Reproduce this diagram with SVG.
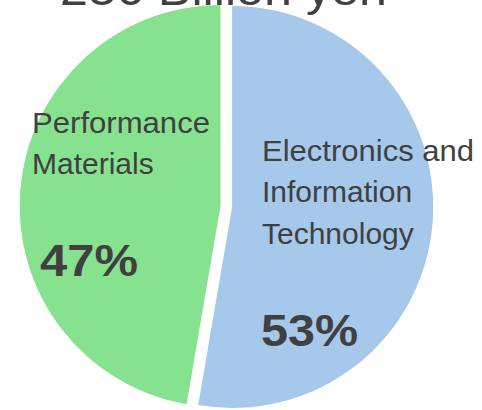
<svg xmlns="http://www.w3.org/2000/svg" width="482" height="410" viewBox="0 0 482 410">
  <style>
    .lbl { font-family: "Liberation Sans", Arial, sans-serif; font-size: 30px; fill: #404040; }
    .pct { font-family: "Liberation Sans", Arial, sans-serif; font-size: 44px; font-weight: bold; fill: #404040; }
    .ttl { font-family: "Liberation Sans", Arial, sans-serif; font-size: 46px; fill: #404040; }
  </style>
  <rect width="482" height="410" fill="#ffffff"/>
  <text class="ttl" x="60" y="5" textLength="327" lengthAdjust="spacingAndGlyphs">236 Billion yen</text>
  <g id="slice-electronics">
    <path d="M232.1,207 L232.1,6 A201,201 0 1 1 198.2,405.1 Z" fill="#A6C8EB"/>
    <text class="lbl" x="262" y="161" textLength="212" lengthAdjust="spacingAndGlyphs">Electronics and</text>
    <text class="lbl" x="262" y="202">Information</text>
    <text class="lbl" x="262" y="244">Technology</text>
    <text class="pct" x="261" y="346" textLength="97" lengthAdjust="spacingAndGlyphs">53%</text>
  </g>
  <g id="slice-performance">
    <path d="M220.5,206 L186.6,404.1 A201,201 0 0 1 220.5,5 Z" fill="#87E290"/>
    <text class="lbl" x="32" y="133" textLength="178" lengthAdjust="spacingAndGlyphs">Performance</text>
    <text class="lbl" x="32" y="174">Materials</text>
    <text class="pct" x="40" y="276" textLength="98" lengthAdjust="spacingAndGlyphs">47%</text>
  </g>
  <g id="connectors"/>
</svg>
